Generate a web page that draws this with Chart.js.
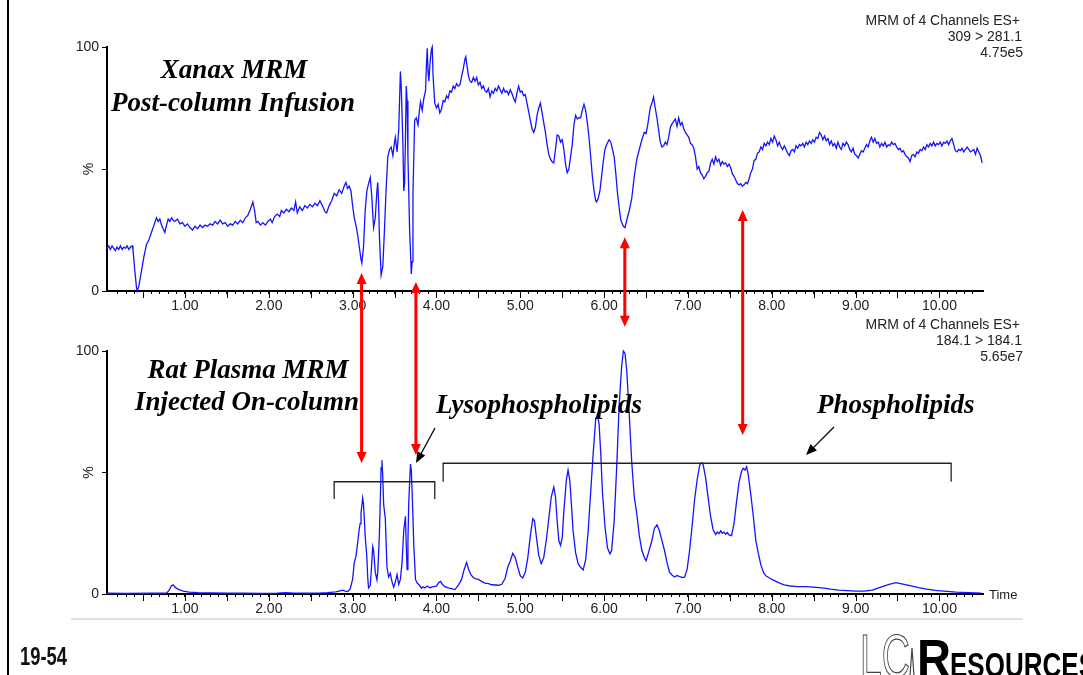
<!DOCTYPE html>
<html lang="en">
<head>
<meta charset="UTF-8">
<title>Xanax MRM / Rat Plasma MRM</title>
<script src="https://cdn.jsdelivr.net/npm/chart.js"></script>
<style>
  body { margin: 0; background: #fff; }
  #wrap { position: relative; width: 1083px; height: 675px; overflow: hidden; background: #fff; }
  #wrap canvas { position: absolute; left: 0; top: 0; }
</style>
</head>
<body>
<div id="wrap">
  <canvas id="topChart" width="1083" height="675"></canvas>
  <canvas id="bottomChart" width="1083" height="675"></canvas>
</div>
<script>
// Xanax MRM, post-column infusion (309 > 281.1), % of 4.75e5
const xanaxTime = [
  0.07, 0.09, 0.11, 0.13, 0.15, 0.17, 0.19, 0.21, 0.23, 0.25,
  0.27, 0.29, 0.31, 0.33, 0.35, 0.37, 0.38, 0.40, 0.42, 0.43,
  0.45, 0.48, 0.51, 0.54, 0.57, 0.60, 0.63, 0.66, 0.68, 0.70,
  0.72, 0.74, 0.76, 0.78, 0.80, 0.82, 0.84, 0.86, 0.88, 0.91,
  0.94, 0.97, 1.00, 1.03, 1.06, 1.09, 1.12, 1.15, 1.18, 1.21,
  1.24, 1.27, 1.30, 1.33, 1.36, 1.39, 1.42, 1.45, 1.48, 1.51,
  1.54, 1.57, 1.60, 1.63, 1.66, 1.69, 1.72, 1.75, 1.78, 1.81,
  1.83, 1.85, 1.87, 1.90, 1.93, 1.96, 1.99, 2.02, 2.04, 2.07,
  2.10, 2.13, 2.15, 2.18, 2.21, 2.24, 2.27, 2.30, 2.32, 2.34,
  2.37, 2.40, 2.43, 2.46, 2.49, 2.52, 2.55, 2.58, 2.61, 2.64,
  2.67, 2.69, 2.72, 2.75, 2.78, 2.81, 2.84, 2.87, 2.90, 2.92,
  2.94, 2.96, 2.98, 3.00, 3.02, 3.04, 3.06, 3.08, 3.10, 3.11,
  3.13, 3.15, 3.17, 3.19, 3.21, 3.23, 3.25, 3.27, 3.29, 3.30,
  3.31, 3.32, 3.34, 3.36, 3.38, 3.40, 3.42, 3.44, 3.46, 3.48,
  3.50, 3.51, 3.53, 3.55, 3.57, 3.58, 3.60, 3.61, 3.62, 3.63,
  3.64, 3.65, 3.66, 3.68, 3.70, 3.71, 3.72, 3.74, 3.76, 3.78,
  3.80, 3.81, 3.83, 3.85, 3.87, 3.88, 3.89, 3.90, 3.91, 3.92,
  3.94, 3.95, 3.96, 3.98, 4.00, 4.02, 4.04, 4.06, 4.08, 4.10,
  4.12, 4.14, 4.16, 4.18, 4.20, 4.22, 4.24, 4.26, 4.28, 4.30,
  4.32, 4.34, 4.35, 4.37, 4.38, 4.40, 4.42, 4.44, 4.46, 4.48,
  4.50, 4.52, 4.54, 4.56, 4.58, 4.60, 4.62, 4.64, 4.66, 4.68,
  4.70, 4.72, 4.74, 4.76, 4.78, 4.80, 4.82, 4.84, 4.86, 4.88,
  4.90, 4.92, 4.94, 4.96, 4.98, 5.00, 5.02, 5.04, 5.06, 5.08,
  5.10, 5.12, 5.14, 5.16, 5.18, 5.20, 5.22, 5.24, 5.26, 5.28,
  5.30, 5.32, 5.34, 5.36, 5.38, 5.40, 5.42, 5.44, 5.46, 5.48,
  5.50, 5.52, 5.54, 5.56, 5.58, 5.60, 5.62, 5.64, 5.66, 5.68,
  5.70, 5.72, 5.74, 5.76, 5.78, 5.80, 5.82, 5.84, 5.86, 5.88,
  5.90, 5.91, 5.93, 5.95, 5.97, 5.99, 6.01, 6.03, 6.06, 6.08,
  6.10, 6.12, 6.14, 6.16, 6.18, 6.20, 6.23, 6.25, 6.27, 6.30,
  6.33, 6.36, 6.39, 6.42, 6.45, 6.48, 6.50, 6.52, 6.55, 6.57,
  6.59, 6.61, 6.63, 6.65, 6.67, 6.69, 6.71, 6.73, 6.75, 6.77,
  6.79, 6.81, 6.83, 6.85, 6.87, 6.89, 6.91, 6.93, 6.95, 6.97,
  6.99, 7.01, 7.03, 7.05, 7.07, 7.09, 7.11, 7.13, 7.15, 7.17,
  7.19, 7.21, 7.23, 7.25, 7.27, 7.29, 7.31, 7.33, 7.35, 7.37,
  7.39, 7.41, 7.43, 7.45, 7.47, 7.49, 7.51, 7.53, 7.55, 7.57,
  7.59, 7.61, 7.63, 7.65, 7.67, 7.69, 7.71, 7.73, 7.75, 7.77,
  7.79, 7.81, 7.83, 7.85, 7.87, 7.89, 7.91, 7.93, 7.95, 7.97,
  7.99, 8.01, 8.03, 8.05, 8.07, 8.09, 8.11, 8.13, 8.15, 8.17,
  8.19, 8.21, 8.23, 8.25, 8.27, 8.29, 8.31, 8.33, 8.35, 8.37,
  8.39, 8.41, 8.43, 8.45, 8.47, 8.49, 8.51, 8.53, 8.55, 8.57,
  8.59, 8.61, 8.63, 8.65, 8.67, 8.69, 8.71, 8.73, 8.75, 8.77,
  8.79, 8.81, 8.83, 8.85, 8.87, 8.89, 8.91, 8.93, 8.95, 8.97,
  8.99, 9.01, 9.03, 9.05, 9.07, 9.09, 9.11, 9.13, 9.15, 9.17,
  9.19, 9.21, 9.23, 9.25, 9.27, 9.29, 9.31, 9.33, 9.35, 9.37,
  9.39, 9.41, 9.43, 9.45, 9.47, 9.49, 9.51, 9.53, 9.55, 9.57,
  9.59, 9.61, 9.63, 9.65, 9.67, 9.69, 9.71, 9.73, 9.75, 9.77,
  9.79, 9.81, 9.83, 9.85, 9.87, 9.89, 9.91, 9.93, 9.95, 9.97,
  9.99, 10.01, 10.03, 10.05, 10.07, 10.09, 10.11, 10.13, 10.15, 10.17,
  10.19, 10.21, 10.23, 10.25, 10.27, 10.29, 10.31, 10.33, 10.35, 10.37,
  10.39, 10.41, 10.43, 10.45, 10.47, 10.49, 10.51
];
const xanaxPct = [
  17.5, 18.5, 17, 18.5, 17.5, 16.5, 18, 17, 18.5, 17,
  18, 17.5, 18.5, 17, 18, 18.5, 17, 9, 2, 0,
  2, 8, 14, 19, 21, 24, 27, 30, 28.5, 29.5,
  27, 25.5, 24, 27, 29.5, 28.5, 30, 29, 28.5, 29.5,
  27.5, 28, 26.5, 27.5, 26, 25, 26.5, 25.5, 27, 26,
  27, 26.5, 27.5, 27, 28.5, 27.5, 29, 27.5, 28, 26.5,
  27.5, 27, 28.5, 27.5, 29, 28, 30, 31, 33.5, 36.5,
  33, 28, 28.5, 27, 28, 27, 28.5, 29.5, 28, 30.5,
  31.5, 30.5, 33, 32, 33.5, 32.5, 34, 33, 36.5, 32,
  34.5, 33, 35, 34, 35.5, 34.5, 36, 35, 37, 35,
  32.5, 32, 35, 37, 40, 39, 41.5, 40, 43, 44.5,
  42, 43, 41, 35, 30, 27, 23, 18, 13, 11.5,
  18, 33, 41, 44, 46.5, 38, 26, 30, 41, 44.5,
  36, 22, 6.5, 10, 25, 42, 55, 58, 59, 55.5,
  61, 63, 57, 66, 90, 84, 60, 41, 44, 62,
  84, 78, 55, 25, 7, 12, 40, 70, 71, 68,
  75, 77.5, 74, 79, 82, 92, 99.5, 90, 86, 92,
  99, 100, 88, 77, 75, 76.5, 73, 74.5, 78, 77.5,
  80, 79, 82, 81.5, 84, 83, 85, 84, 84.5, 88,
  91, 95, 96, 91, 88.5, 86, 85.5, 87.5, 86, 87.5,
  84.5, 85.5, 83, 84, 82, 81.5, 83, 79.5, 82, 81,
  83, 82, 84, 82.5, 81, 83, 81.5, 82, 80.5, 82.5,
  81, 79, 77.5, 81, 84, 81.5, 82, 80, 80.5, 77,
  73.5, 70, 66.5, 65, 67, 72, 75, 77, 73, 69,
  65, 60, 56, 54, 53, 52.5, 58, 64, 63.5, 61,
  62, 58, 52, 48.5, 50, 55, 60, 68, 72, 70.5,
  71, 71, 74, 76.5, 74, 69, 63, 55, 47, 41,
  37, 36.5, 38, 41, 47, 53, 58, 60, 62, 61,
  58, 55, 48, 40, 34, 29, 26.5, 26, 29, 33,
  38, 47, 54, 58, 62, 65, 64.5, 68, 75, 77,
  79.5, 75, 71, 66, 61, 59, 59.5, 61, 60, 63,
  67, 68.5, 69.5, 70.5, 67.5, 71, 68, 69, 66.5, 65,
  64, 63, 60.5, 60, 58.5, 55, 50, 51, 48.5, 47.5,
  46, 47, 48.5, 49, 52.5, 54, 52, 55, 53, 54,
  51.5, 53, 52, 52.5, 51, 52, 50.5, 48, 47, 45.5,
  44, 43.5, 44, 43, 43.5, 44.5, 44, 46, 48.5, 50,
  53.5, 54, 56.5, 57, 59, 58, 60.5, 59.5, 61, 60,
  62.5, 61, 63.5, 62, 59.5, 61, 59, 58, 59.5, 58,
  56.5, 55.5, 57.5, 58, 57, 59.5, 58.5, 60, 59.5, 60.5,
  59, 61, 60, 61.5, 60.5, 62, 61, 63, 62.5, 65,
  64, 62, 63.5, 61.5, 62.5, 60, 61.5, 59.5, 60.5, 58.5,
  61, 59, 58, 60.5, 59.5, 61, 60, 58, 57, 58.5,
  56, 55.5, 54.5, 56, 57.5, 57, 58.5, 60, 59, 61.5,
  63, 61, 62.5, 60.5, 61, 59, 60.5, 59.5, 61, 59,
  60, 59.5, 61, 60, 60.5, 59, 58, 58.5, 57, 57.5,
  56, 55, 54.5, 53, 55.5, 56, 55, 57, 56.5, 58,
  57.5, 59, 58, 60, 59, 60.5, 59.5, 61, 59.5, 60.5,
  60, 61, 59.5, 61, 60.5, 61.5, 60, 61.5, 62.5, 60,
  57.5, 57, 58, 57.5, 58.5, 57, 58, 59, 58, 57,
  57.5, 58, 56, 58.5, 57, 55.5, 52.5
];

// Rat plasma MRM, injected on-column (184.1 > 184.1), % of 5.65e7
const plasmaTime = [
  0.07, 0.30, 0.60, 0.78, 0.81, 0.84, 0.86, 0.89, 0.93, 0.98,
  1.05, 1.15, 1.30, 1.50, 1.70, 1.90, 2.10, 2.20, 2.30, 2.50,
  2.60, 2.70, 2.80, 2.85, 2.88, 2.91, 2.94, 2.97, 3.00, 3.02,
  3.04, 3.06, 3.08, 3.09, 3.10, 3.12, 3.13, 3.15, 3.17, 3.18,
  3.19, 3.21, 3.22, 3.24, 3.25, 3.27, 3.29, 3.30, 3.32, 3.34,
  3.35, 3.36, 3.37, 3.39, 3.41, 3.43, 3.45, 3.47, 3.49, 3.51,
  3.53, 3.55, 3.57, 3.59, 3.61, 3.63, 3.64, 3.65, 3.66, 3.67,
  3.69, 3.70, 3.71, 3.73, 3.75, 3.77, 3.80, 3.82, 3.84, 3.86,
  3.89, 3.92, 3.96, 4.00, 4.03, 4.05, 4.07, 4.10, 4.14, 4.18,
  4.22, 4.26, 4.30, 4.33, 4.36, 4.38, 4.41, 4.44, 4.47, 4.50,
  4.54, 4.58, 4.62, 4.66, 4.70, 4.74, 4.78, 4.82, 4.85, 4.88,
  4.91, 4.94, 4.97, 5.00, 5.03, 5.06, 5.09, 5.12, 5.15, 5.17,
  5.19, 5.22, 5.25, 5.28, 5.31, 5.34, 5.37, 5.40, 5.42, 5.44,
  5.46, 5.48, 5.50, 5.52, 5.55, 5.57, 5.59, 5.61, 5.63, 5.66,
  5.69, 5.72, 5.75, 5.78, 5.81, 5.84, 5.87, 5.90, 5.92, 5.94,
  5.96, 5.98, 6.01, 6.04, 6.07, 6.09, 6.12, 6.15, 6.18, 6.21,
  6.23, 6.25, 6.27, 6.30, 6.33, 6.36, 6.39, 6.42, 6.45, 6.48,
  6.50, 6.53, 6.57, 6.60, 6.63, 6.66, 6.69, 6.72, 6.75, 6.78,
  6.81, 6.84, 6.87, 6.90, 6.93, 6.96, 6.99, 7.02, 7.05, 7.08,
  7.11, 7.14, 7.16, 7.18, 7.21, 7.24, 7.27, 7.30, 7.33, 7.35,
  7.37, 7.39, 7.41, 7.43, 7.45, 7.47, 7.49, 7.52, 7.55, 7.58,
  7.61, 7.64, 7.66, 7.68, 7.70, 7.72, 7.75, 7.78, 7.81, 7.84,
  7.87, 7.90, 7.93, 7.96, 8.00, 8.05, 8.10, 8.15, 8.20, 8.30,
  8.40, 8.50, 8.60, 8.70, 8.80, 8.90, 9.00, 9.10, 9.20, 9.30,
  9.40, 9.48, 9.55, 9.65, 9.75, 9.85, 9.95, 10.05, 10.20, 10.35,
  10.50
];
const plasmaPct = [
  0.3, 0.2, 0.3, 0.3, 1.5, 3.5, 3.7, 2.5, 1.8, 1.2,
  0.8, 0.6, 0.5, 0.3, 0.3, 0.2, 0.4, 0.6, 0.4, 0.3,
  0.4, 0.6, 0.9, 1.3, 1.6, 1.2, 1.0, 2.0, 6, 13,
  15.5, 21, 27, 29, 33, 39.5, 37, 24, 15, 7,
  2.5, 3.5, 8, 19.5, 18, 9, 5.8, 9, 25, 52,
  55, 48, 37, 31, 11, 7, 8.5, 5, 2.8, 5,
  8, 4, 6, 13, 26, 32, 20, 10, 22, 38,
  53.5, 51, 42, 20, 6, 4.5, 3.5, 2.4, 3, 2.5,
  3.3, 2.6, 3.0, 3.2, 4.8, 5.2, 4, 3, 2.5, 2.2,
  1.8, 3.5, 6, 10, 13, 10.5, 8, 6.8, 6.2, 6,
  5.2, 4.5, 4.3, 3.8, 3.7, 3.6, 4.0, 6.5, 11, 13.5,
  16.7, 15, 11, 7.5, 6.6, 9, 15, 24, 31, 30,
  24, 16, 12.5, 15, 22, 31, 40, 44, 40, 30,
  22, 20, 23, 34, 47, 51, 47, 37, 26, 17,
  12.5, 11, 9.9, 14, 26, 42, 58, 72, 74, 70,
  58, 42, 28, 19, 16.5, 18, 30, 52, 78, 94,
  100, 99, 92, 74, 54, 40, 33, 24, 18, 15,
  13.7, 17, 22, 27, 28.5, 26, 22, 18, 13, 9,
  7.8, 7, 7.6, 7.2, 6.8, 6.9, 10, 18, 28, 39,
  47, 53, 54, 53.5, 48, 40, 32, 26.5, 24.5, 25.5,
  24.8, 26, 25, 25.5, 24.6, 25.3, 24.3, 24, 29, 38,
  46, 50.5, 51.7, 51, 52.4, 49, 41, 32, 22, 16.7,
  12, 9, 7.5, 6.9, 6, 5.2, 4.4, 3.8, 3.4, 3.0,
  3.0, 2.8, 2.5, 2.0, 1.6, 1.4, 1.2, 1.2, 1.6, 2.8,
  4.0, 4.7, 4.2, 3.4, 2.6, 2.0, 1.5, 1.2, 0.8, 0.6,
  0.4
];

// axis range and labelled ticks
const timeRange = [0.07, 10.52];
const pctTickLabels = { 0: '0', 100: '100' };
const topHeader = ['MRM of 4 Channels ES+', '309 > 281.1', '4.75e5'];
const bottomHeader = ['MRM of 4 Channels ES+', '184.1 > 184.1', '5.65e7'];

const SANS = '"Liberation Sans", Arial, sans-serif';
const SERIF = '"Liberation Serif", "Times New Roman", serif';

function fitText(ctx, text, x, y, width, font, stroke) {
  ctx.save();
  ctx.font = font;
  ctx.textAlign = 'left';
  ctx.textBaseline = 'alphabetic';
  const w = ctx.measureText(text).width;
  ctx.translate(x, y);
  ctx.scale(width / w, 1);
  if (stroke) ctx.strokeText(text, 0, 0); else ctx.fillText(text, 0, 0);
  ctx.restore();
}

// longer tick marks every 0.5 min, the "%" axis name and the header lines
function panelDecor(chart, header) {
  const ctx = chart.ctx;
  const xs = chart.scales.x;
  const area = chart.chartArea;
  ctx.save();
  ctx.strokeStyle = '#000';
  ctx.lineWidth = 1;
  xs.ticks.forEach(t => {
    if (Math.abs(t.value * 2 - Math.round(t.value * 2)) < 1e-6) {
      const px = Math.round(xs.getPixelForValue(t.value)) + 0.5;
      ctx.beginPath();
      ctx.moveTo(px, area.bottom);
      ctx.lineTo(px, area.bottom + 7);
      ctx.stroke();
    }
  });
  ctx.fillStyle = '#222';
  ctx.font = '14px ' + SANS;
  ctx.textAlign = 'center';
  ctx.textBaseline = 'middle';
  ctx.translate(89, chart.scales.y.getPixelForValue(50));
  ctx.rotate(-Math.PI / 2);
  ctx.fillText('%', 0, 0);
  ctx.restore();

  ctx.save();
  ctx.fillStyle = '#222';
  ctx.font = '14px ' + SANS;
  ctx.textAlign = 'right';
  ctx.textBaseline = 'middle';
  const top = area.top - 26;
  ctx.fillText(header[0], 1020, top);
  ctx.fillText(header[1], 1022, top + 16);
  ctx.fillText(header[2], 1023, top + 32);
  ctx.restore();
}

const topDecor = {
  id: 'topDecor',
  afterDraw(chart) {
    panelDecor(chart, topHeader);
    const ctx = chart.ctx;
    ctx.save();
    ctx.fillStyle = '#000';
    ctx.font = 'italic bold 27px ' + SERIF;
    ctx.textAlign = 'center';
    ctx.textBaseline = 'alphabetic';
    ctx.fillText('Xanax MRM', 234, 78);
    ctx.fillText('Post-column Infusion', 233, 111);
    ctx.restore();
  }
};

let topChart;

function redArrow(ctx, x, yTop, yBot) {
  ctx.save();
  ctx.strokeStyle = '#ff0000';
  ctx.fillStyle = '#ff0000';
  ctx.lineWidth = 3;
  ctx.beginPath();
  ctx.moveTo(x, yTop + 8);
  ctx.lineTo(x, yBot - 8);
  ctx.stroke();
  ctx.beginPath();
  ctx.moveTo(x, yTop);
  ctx.lineTo(x - 5, yTop + 11);
  ctx.lineTo(x + 5, yTop + 11);
  ctx.closePath();
  ctx.fill();
  ctx.beginPath();
  ctx.moveTo(x, yBot);
  ctx.lineTo(x - 5, yBot - 11);
  ctx.lineTo(x + 5, yBot - 11);
  ctx.closePath();
  ctx.fill();
  ctx.restore();
}

function blackArrow(ctx, x1, y1, x2, y2) {
  const a = Math.atan2(y2 - y1, x2 - x1);
  ctx.save();
  ctx.strokeStyle = '#000';
  ctx.fillStyle = '#000';
  ctx.lineWidth = 1.3;
  ctx.beginPath();
  ctx.moveTo(x1, y1);
  ctx.lineTo(x2 - 8 * Math.cos(a), y2 - 8 * Math.sin(a));
  ctx.stroke();
  ctx.beginPath();
  ctx.moveTo(x2, y2);
  ctx.lineTo(x2 - 11 * Math.cos(a) + 4.5 * Math.sin(a), y2 - 11 * Math.sin(a) - 4.5 * Math.cos(a));
  ctx.lineTo(x2 - 11 * Math.cos(a) - 4.5 * Math.sin(a), y2 - 11 * Math.sin(a) + 4.5 * Math.cos(a));
  ctx.closePath();
  ctx.fill();
  ctx.restore();
}

const bottomDecor = {
  id: 'bottomDecor',
  afterDraw(chart) {
    panelDecor(chart, bottomHeader);
    const ctx = chart.ctx;
    const xs = chart.scales.x;
    const ys = chart.scales.y;
    const area = chart.chartArea;

    // titles
    ctx.save();
    ctx.fillStyle = '#000';
    ctx.font = 'italic bold 27px ' + SERIF;
    ctx.textAlign = 'center';
    ctx.textBaseline = 'alphabetic';
    ctx.fillText('Rat Plasma MRM', 248, 378);
    ctx.fillText('Injected On-column', 247, 410);
    ctx.textAlign = 'left';
    ctx.fillText('Lysophospholipids', 436, 413);
    ctx.fillText('Phospholipids', 817, 413);
    ctx.font = '13px ' + SANS;
    ctx.fillStyle = '#222';
    ctx.textBaseline = 'middle';
    ctx.fillText('Time', 989, area.bottom + 1);
    ctx.restore();

    // brackets
    ctx.save();
    ctx.strokeStyle = '#222';
    ctx.lineWidth = 1.3;
    const bracket = (t1, t2, v, vEnd) => {
      const x1 = xs.getPixelForValue(t1), x2 = xs.getPixelForValue(t2);
      const y = ys.getPixelForValue(v), yEnd = ys.getPixelForValue(vEnd);
      ctx.beginPath();
      ctx.moveTo(x1, yEnd);
      ctx.lineTo(x1, y);
      ctx.lineTo(x2, y);
      ctx.lineTo(x2, yEnd);
      ctx.stroke();
    };
    bracket(2.78, 3.98, 46.2, 39.1);
    bracket(4.08, 10.14, 53.8, 46.2);
    ctx.restore();

    blackArrow(ctx, 435, 428, 416, 463);
    blackArrow(ctx, 834, 427, 806, 455);

    // red arrows linking the suppression dips to the plasma peaks
    const links = [
      { t: 3.107, top: 7.4, bottom: 53.9 },
      { t: 3.755, top: 3.7, bottom: 57.2 },
      { t: 6.247, top: 22, bottom: 110 },
      { t: 7.653, top: 33.2, bottom: 65.4 }
    ];
    links.forEach(l => {
      const x = xs.getPixelForValue(l.t);
      redArrow(ctx, x, topChart.scales.y.getPixelForValue(l.top), ys.getPixelForValue(l.bottom));
    });

    // slide frame and footer
    ctx.save();
    ctx.strokeStyle = '#000';
    ctx.lineWidth = 2;
    ctx.beginPath();
    ctx.moveTo(8, 0);
    ctx.lineTo(8, 675);
    ctx.stroke();
    ctx.strokeStyle = '#e6e1d3';
    ctx.lineWidth = 2;
    ctx.beginPath();
    ctx.moveTo(71, 619);
    ctx.lineTo(1023, 619);
    ctx.stroke();
    ctx.fillStyle = '#111';
    fitText(ctx, '19-54', 20, 665, 47, 'bold 25px ' + SANS);
    ctx.strokeStyle = '#444';
    ctx.lineWidth = 1.2;
    fitText(ctx, 'LC', 860, 677, 50, '62px ' + SANS, true);
    ctx.beginPath();
    ctx.moveTo(906, 676);
    ctx.lineTo(910, 676);
    ctx.lineTo(912, 648);
    ctx.lineTo(914, 676);
    ctx.lineTo(917, 676);
    ctx.stroke();
    ctx.fillStyle = '#000';
    fitText(ctx, 'R', 917, 677, 34, 'bold 54px ' + SANS);
    fitText(ctx, 'ESOURCES', 950, 677, 146, 'bold 35px ' + SANS);
    ctx.restore();
  }
};

function makeChart(id, time, pct, area, plugin) {
  const points = time.map((t, i) => ({ x: t, y: pct[i] }));
  return new Chart(document.getElementById(id), {
    type: 'line',
    data: {
      datasets: [{
        data: points,
        borderColor: '#1414ff',
        borderWidth: 1.3,
        pointRadius: 0,
        tension: 0,
        fill: false,
        clip: 4
      }]
    },
    options: {
      responsive: false,
      animation: false,
      events: [],
      layout: {
        padding: { left: area.left - 40, right: 1083 - area.right, top: area.top, bottom: 675 - area.bottom - 30 }
      },
      plugins: { legend: { display: false }, tooltip: { enabled: false } },
      scales: {
        x: {
          type: 'linear',
          min: timeRange[0],
          max: timeRange[1],
          afterFit: s => { s.height = 30; },
          afterBuildTicks: s => {
            s.ticks = s.ticks.filter(t => Math.abs(t.value * 10 - Math.round(t.value * 10)) < 1e-6);
          },
          ticks: {
            stepSize: 0.1,
            maxTicksLimit: 200,
            autoSkip: false,
            maxRotation: 0,
            minRotation: 0,
            padding: 4,
            color: '#222',
            font: { family: SANS, size: 14 },
            callback: v => (Math.abs(v - Math.round(v)) < 1e-6 && v >= 1) ? v.toFixed(2) : ''
          },
          grid: { drawOnChartArea: false, tickLength: 3, tickColor: '#000', tickWidth: 1 },
          border: { color: '#000', width: 2 }
        },
        y: {
          min: 0,
          max: 100,
          afterFit: s => { s.width = 40; },
          ticks: {
            stepSize: 50,
            padding: 3,
            color: '#222',
            font: { family: SANS, size: 14 },
            callback: v => pctTickLabels[v] || ''
          },
          grid: { drawOnChartArea: false, tickLength: 5, tickColor: '#000', tickWidth: 1 },
          border: { color: '#000', width: 2 }
        }
      }
    },
    plugins: [plugin]
  });
}

topChart = makeChart('topChart', xanaxTime, xanaxPct, { left: 107, right: 983, top: 47, bottom: 291 }, topDecor);
makeChart('bottomChart', plasmaTime, plasmaPct, { left: 107, right: 983, top: 351, bottom: 594 }, bottomDecor);
</script>
</body>
</html>
